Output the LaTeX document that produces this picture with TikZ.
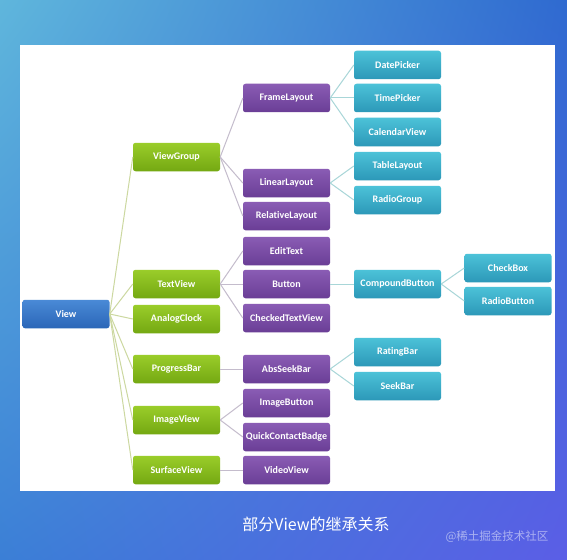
\documentclass[tikz,border=0pt]{standalone}
\usepackage{fontspec}
\newfontfamily\carlito[Ligatures={NoCommon,NoContextual}]{Carlito}
\newfontfamily\cjk{Noto Sans CJK SC}
\usetikzlibrary{positioning, shadings}

\definecolor{bgTL}{HTML}{5FB6DC}
\definecolor{bgTR}{HTML}{2F6AD0}
\definecolor{bgBL}{HTML}{3B7FD6}
\definecolor{bgBR}{HTML}{5B5EE6}
\definecolor{blueTop}{HTML}{4A8AD6}
\definecolor{blueBot}{HTML}{2A66B8}
\definecolor{greenTop}{HTML}{9ACD2A}
\definecolor{greenBot}{HTML}{74A812}
\definecolor{purpTop}{HTML}{8A5CB4}
\definecolor{purpBot}{HTML}{6A3E96}
\definecolor{tealTop}{HTML}{4CC2D8}
\definecolor{tealBot}{HTML}{2C98B8}
\definecolor{lineGreen}{HTML}{CCD8A0}
\definecolor{linePurp}{HTML}{C4BCCC}
\definecolor{lineTeal}{HTML}{A8D6D8}

\begin{document}
\begin{tikzpicture}[
    x=1pt, y=-1pt,
    box/.style={rounded corners=2.5pt, minimum width=87pt, minimum height=28.5pt,
        inner sep=0pt, text=white, font=\carlito\bfseries\fontsize{10}{12}\selectfont},
    bluebox/.style={box, top color=blueTop, bottom color=blueBot},
    greenbox/.style={box, top color=greenTop, bottom color=greenBot},
    purpbox/.style={box, top color=purpTop, bottom color=purpBot},
    tealbox/.style={box, top color=tealTop, bottom color=tealBot},
    link/.style={line width=1pt}
]

    % background and panel
    \useasboundingbox (0,0) rectangle (567,559);
    \shade[upper left=bgTL, upper right=bgTR, lower left=bgBL, lower right=bgBR]
        (0,0) rectangle (567,559);
    \fill[white] (20,45) rectangle (555,491);

    % root
    \node[bluebox] (view) at (66,314) {View};

    % direct subclasses of View
    \foreach \name/\txt/\y in {viewgroup/ViewGroup/157, textview/TextView/284,
        analogclock/AnalogClock/319, progressbar/ProgressBar/369,
        imageview/ImageView/420, surfaceview/SurfaceView/470} {
        \node[greenbox] (\name) at (176.5,\y) {\txt};
        \draw[link, lineGreen] (view.east) -- (\name.west);
    }

    % third level
    \foreach \name/\txt/\y/\parent in {framelayout/FrameLayout/98/viewgroup,
        linearlayout/LinearLayout/183/viewgroup, relativelayout/RelativeLayout/216/viewgroup,
        edittext/EditText/251/textview, button/Button/284/textview,
        checkedtextview/CheckedTextView/318/textview, absseekbar/AbsSeekBar/369/progressbar,
        imagebutton/ImageButton/403/imageview, quickcontactbadge/QuickContactBadge/437/imageview,
        videoview/VideoView/470/surfaceview} {
        \node[purpbox] (\name) at (286.5,\y) {\txt};
        \draw[link, linePurp] (\parent.east) -- (\name.west);
    }

    % fourth level
    \foreach \name/\txt/\y/\parent in {datepicker/DatePicker/65/framelayout,
        timepicker/TimePicker/98/framelayout, calendarview/CalendarView/132/framelayout,
        tablelayout/TableLayout/166/linearlayout, radiogroup/RadioGroup/200/linearlayout,
        compoundbutton/CompoundButton/284/button, ratingbar/RatingBar/352/absseekbar,
        seekbar/SeekBar/386/absseekbar} {
        \node[tealbox] (\name) at (397.5,\y) {\txt};
        \draw[link, lineTeal] (\parent.east) -- (\name.west);
    }

    % fifth level
    \node[tealbox] (checkbox) at (508,268) {CheckBox};
    \node[tealbox] (radiobutton) at (508,301) {RadioButton};
    \draw[link, lineTeal] (compoundbutton.east) -- (checkbox.west);
    \draw[link, lineTeal] (compoundbutton.east) -- (radiobutton.west);

    % caption and watermark
    \node[text=white, font=\cjk\fontsize{16}{19}\selectfont] (caption) at (316,524) {部分View的继承关系};
    \node[text=white, opacity=0.5, font=\cjk\fontsize{11.5}{14}\selectfont, anchor=east] (mark) at (552,537) {@稀土掘金技术社区};

\end{tikzpicture}
\end{document}
